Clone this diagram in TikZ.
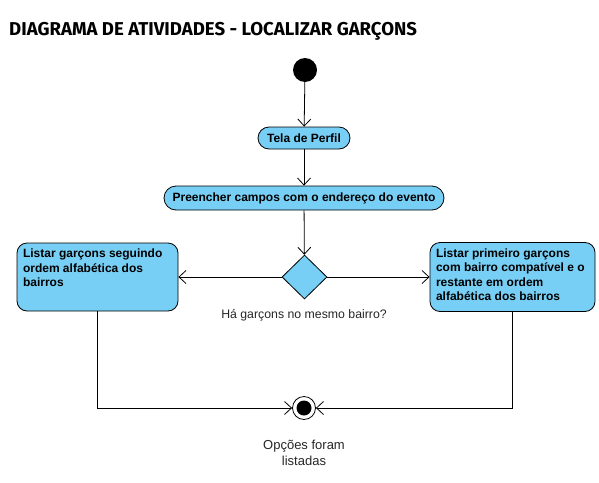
\documentclass[tikz,border=0pt]{standalone}
\usepackage{fontspec}
\setmainfont{Liberation Sans}
\newfontfamily\titulofont{Fira Sans}
\usetikzlibrary{arrows.meta,shapes.geometric}
\definecolor{azulacao}{HTML}{78CFF5}
\tikzset{
	acao/.style={draw,fill=azulacao,line width=0.8pt,inner sep=0pt,font=\fontsize{12}{14.5}\selectfont\bfseries},
	pilula/.style={acao,rounded corners=11pt},
	caixa/.style={acao,rounded corners=10pt,inner xsep=6pt,inner ysep=6pt,align=left},
	decisao/.style={draw,fill=azulacao,line width=0.8pt,diamond,minimum width=45pt,minimum height=44pt,inner sep=0pt},
	fluxo/.style={line width=0.8pt,-{Straight Barb[length=7pt,width=13pt]}},
	rotulo/.style={text=black!85,align=center}
}
\begin{document}
\begin{tikzpicture}[x=1pt,y=-1pt]
	\useasboundingbox (0,0) rectangle (599,482);
	\node[anchor=west,inner sep=0pt] (titulo) at (9,31) {\titulofont\bfseries\fontsize{18.6}{21}\selectfont DIAGRAMA DE ATIVIDADES - LOCALIZAR GARÇONS};
	\node[circle,fill=black,minimum size=24pt,inner sep=0pt] (inicio) at (305,70) {};
	\node[pilula,minimum width=92pt,minimum height=22pt] (perfil) at (304,138) {Tela de Perfil};
	\node[pilula,rounded corners=12pt,minimum width=280pt,minimum height=24pt] (campos) at (304,198) {Preencher campos com o endereço do evento};
	\node[decisao] (bairro) at (304.5,277) {};
	\node[rotulo,font=\fontsize{12.3}{14}\selectfont] (pergunta) at (304,315) {Há garçons no mesmo bairro?};
	\node[caixa] (alfabetica) at (97.5,277) {\parbox[t][56pt][t]{149pt}{\raggedright Listar garçons seguindo\\ordem alfabética dos\\bairros}};
	\node[caixa] (compativel) at (512.5,277) {\parbox[t][57pt][t]{153pt}{\raggedright Listar primeiro garçons\\com bairro compatível e o\\restante em ordem\\alfabética dos bairros}};
	\node[circle,draw,line width=0.8pt,minimum size=23pt,inner sep=0pt,path picture={\fill (path picture bounding box.center) circle (7.5pt);}] (fim) at (304,408) {};
	\node[rotulo,font=\fontsize{13}{16}\selectfont] (listadas) at (304,453) {Opções foram\\listadas};
	\draw[fluxo] (inicio)--(perfil);
	\draw[fluxo] (perfil)--(campos);
	\draw[fluxo] (campos)--(bairro);
	\draw[fluxo] (bairro)--(alfabetica);
	\draw[fluxo] (bairro)--(compativel);
	\draw[fluxo] (alfabetica.south)|-(fim);
	\draw[fluxo] (compativel.south)|-(fim);
\end{tikzpicture}
\end{document}
